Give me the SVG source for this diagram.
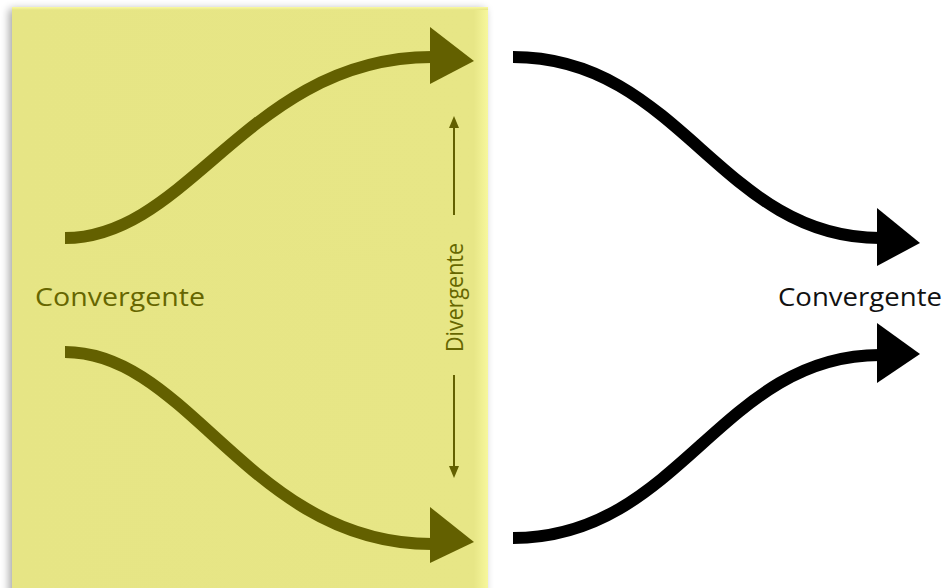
<svg xmlns="http://www.w3.org/2000/svg" width="946" height="588" viewBox="0 0 946 588">
<defs>
<linearGradient id="pg" x1="0" y1="0" x2="1" y2="0">
<stop offset="0" stop-color="#e6e585"/>
<stop offset="0.97" stop-color="#e7e686"/>
<stop offset="1" stop-color="#f7f79c"/>
</linearGradient>
<linearGradient id="tg" x1="0" y1="0" x2="0" y2="1">
<stop offset="0" stop-color="#fafaa0"/>
<stop offset="1" stop-color="#e6e585"/>
</linearGradient>
<filter id="sh" x="-5%" y="-5%" width="110%" height="110%">
<feGaussianBlur in="SourceAlpha" stdDeviation="4"/>
<feOffset dx="-3" dy="2"/>
<feComponentTransfer><feFuncA type="linear" slope="0.35"/></feComponentTransfer>
<feMerge><feMergeNode/><feMergeNode in="SourceGraphic"/></feMerge>
</filter>
<marker id="sa" viewBox="0 0 12 10" refX="6" refY="5" markerWidth="12" markerHeight="10" markerUnits="userSpaceOnUse" orient="auto">
<path d="M0,0 L12,5 L0,10 Z" fill="#636000"/>
</marker>
</defs>
<style>
.olive{stroke:#636000;fill:none;stroke-width:12}
.blk{stroke:#000;fill:none;stroke-width:12}
.hol{fill:#636000}
.hbk{fill:#000}
.lbl{font-family:"Open Sans","Noto Sans",sans-serif;font-size:26px}
.div{font-family:"Open Sans","Noto Sans",sans-serif;font-size:24px}
</style>
<g id="panel">
<rect x="12" y="7" width="476" height="590" fill="url(#pg)" filter="url(#sh)"/>
<rect x="12" y="7" width="476" height="3" fill="url(#tg)"/>
</g>
<g id="connectors">
<path class="olive" d="M65,238 C190,238 250,57 432,57"/>
<path class="hol" d="M430,27 L474,61 L430,84 Z"/>
<path class="olive" d="M65,352 C190,352 250,544 432,544"/>
<path class="hol" d="M430,507 L474,542 L430,563 Z"/>
<path class="blk" d="M513,57 C680,57 720,238 880,238"/>
<path class="hbk" d="M877,208 L920,243 L877,266 Z"/>
<path class="blk" d="M513,538 C680,538 720,355 880,355"/>
<path class="hbk" d="M877,323 L920,354 L877,383 Z"/>
<line x1="454" y1="215" x2="454" y2="122" stroke="#636000" stroke-width="2" marker-end="url(#sa)"/>
<line x1="454" y1="375" x2="454" y2="472" stroke="#636000" stroke-width="2" marker-end="url(#sa)"/>
</g>
<g id="label-convergente-left">
<text class="lbl" x="35" y="306" fill="#666600" textLength="170" lengthAdjust="spacingAndGlyphs">Convergente</text>
</g>
<g id="label-divergente">
<text class="div" transform="translate(463,352) rotate(-90)" fill="#666600" textLength="109" lengthAdjust="spacingAndGlyphs">Divergente</text>
</g>
<g id="label-convergente-right">
<text class="lbl" x="778" y="306" fill="#111" textLength="164" lengthAdjust="spacingAndGlyphs">Convergente</text>
</g>
</svg>
